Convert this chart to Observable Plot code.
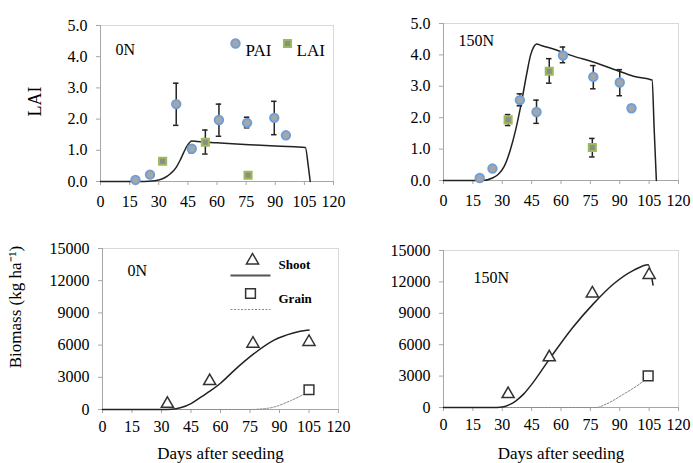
<!DOCTYPE html>
<html><head><meta charset="utf-8">
<script src="https://cdn.jsdelivr.net/npm/d3@7"></script>
<script src="https://cdn.jsdelivr.net/npm/@observablehq/plot@0.6"></script>
<style>
body{margin:0;background:#fff;}
#wrap{position:relative;width:693px;height:463px;overflow:hidden;background:#fff;}
#wrap svg, #wrap svg text{font-family:"Liberation Serif","Times New Roman",serif !important;}
</style></head><body><div id="wrap"></div>
<script>
// ---------- Data ----------
const xTicks = [0, 15, 30, 45, 60, 75, 90, 105, 120];
const laiTicks = [0, 1, 2, 3, 4, 5];
const bioTicks = [0, 3000, 6000, 9000, 12000, 15000];

// 0N LAI panel
const paiDays0 = [18, 25.5, 39, 47, 61, 75.5, 89.5, 95.5];
const paiVals0 = [0.05, 0.22, 2.48, 1.05, 1.97, 1.88, 2.04, 1.48];
const paiLo0   = [null, null, 1.80, 0.92, 1.45, 1.72, 1.50, 1.42];
const paiHi0   = [null, null, 3.15, 1.16, 2.48, 2.06, 2.57, 1.56];
const laiDays0 = [32, 54, 76];
const laiVals0 = [0.65, 1.26, 0.20];
const laiLo0   = [null, 0.88, null];
const laiHi0   = [null, 1.65, null];
const simLaiDays0 = [0, 20, 25, 30, 33, 36, 39, 41, 43, 45, 47, 50, 60, 70, 80, 90, 100, 105.5, 107, 108];
const simLaiVals0 = [0, 0, 0.01, 0.05, 0.12, 0.25, 0.45, 0.68, 0.95, 1.18, 1.3, 1.28, 1.24, 1.2, 1.17, 1.14, 1.11, 1.09, 0.5, 0];

// 150N LAI panel
const paiDays150 = [18.5, 25, 39, 47.5, 61, 76.5, 90, 96];
const paiVals150 = [0.08, 0.38, 2.56, 2.18, 3.98, 3.30, 3.12, 2.30];
const paiLo150   = [null, null, 2.38, 1.82, 3.75, 2.92, 2.70, 2.20];
const paiHi150   = [null, null, 2.76, 2.56, 4.25, 3.66, 3.53, 2.40];
const laiDays150 = [33, 54, 76];
const laiVals150 = [1.93, 3.48, 1.05];
const laiLo150   = [1.75, 3.10, 0.75];
const laiHi150   = [2.10, 3.88, 1.34];
const simLaiDays150 = [0, 20, 25, 28, 31, 34, 37, 40, 42.5, 44.5, 46, 47.5, 50, 58, 66, 76, 88, 97, 106.5, 107.6, 108.7];
const simLaiVals150 = [0, 0, 0.08, 0.2, 0.45, 0.95, 1.65, 2.55, 3.4, 4.0, 4.25, 4.35, 4.3, 4.15, 3.97, 3.78, 3.52, 3.32, 3.2, 1.6, 0];

// 0N biomass panel
const shootDays0 = [33, 54.5, 76.5, 105];
const shootVals0 = [530, 2650, 6130, 6290];
const grainDays0 = [105];
const grainVals0 = [1840];
const simShootDays0 = [0, 30, 35, 40, 45, 50, 55, 60, 67, 77, 87, 97, 104, 105];
const simShootVals0 = [0, 0, 20, 180, 550, 1150, 1750, 2450, 3650, 5200, 6440, 7130, 7380, 7400];
const simGrainDays0 = [0, 75, 80, 87, 96, 104.5];
const simGrainVals0 = [0, 0, 40, 220, 850, 1620];

// 150N biomass panel
const shootDays150 = [33, 54, 76, 105];
const shootVals150 = [1280, 4790, 10900, 12670];
const grainDays150 = [104.5];
const grainVals150 = [3030];
const simShootDays150 = [0, 25, 30, 34, 37, 41, 46, 54, 66, 76.5, 86.5, 97, 104.5, 107];
const simShootVals150 = [0, 0, 50, 300, 640, 1300, 2450, 4600, 7650, 9900, 11750, 13100, 13650, 11700];
const simGrainDays150 = [0, 78, 83, 92, 100, 104.5];
const simGrainVals150 = [0, 0, 320, 1280, 2230, 2870];

// ---------- Helpers ----------
const FONT = "Liberation Serif, Times New Roman, serif";
const wrap = document.getElementById("wrap");
const pts = (xs, ys, lo, hi) => xs.map((x, i) => ({x, y: ys[i], lo: lo ? lo[i] : null, hi: hi ? hi[i] : null}));
const hline = {draw(ctx) { ctx.moveTo(-20, 0); ctx.lineTo(20, 0); }};

const PAI_STYLE = {r: 4.2, fill: "#a6a6a6", stroke: "#6f9fd8", strokeWidth: 2};
const LAI_STYLE = {symbol: "square", r: 4, fill: "#8c8c8c", stroke: "#9bbb59", strokeWidth: 2};

function errorBars(data) {
  const e = data.filter(d => d.lo != null);
  return [
    Plot.ruleX(e, {x: "x", y1: "lo", y2: "hi", stroke: "#222", strokeWidth: 1.5}),
    Plot.ruleY(e, {y: "lo", x1: d => d.x - 1.4, x2: d => d.x + 1.4, stroke: "#222", strokeWidth: 1.5}),
    Plot.ruleY(e, {y: "hi", x1: d => d.x - 1.4, x2: d => d.x + 1.4, stroke: "#222", strokeWidth: 1.5})
  ];
}

function panel({left, top, width, height, mt, mr, mb, ml, yDomain, yTicks, yFmt, xPad, marks}) {
  const svg = Plot.plot({
    width, height,
    marginTop: mt, marginRight: mr, marginBottom: mb, marginLeft: ml,
    style: {fontFamily: FONT, fontSize: "16px", color: "black", background: "transparent", overflow: "visible"},
    x: {domain: [0, 120]},
    y: {domain: yDomain},
    marks: [
      Plot.frame({stroke: "#d9d9d9"}),
      Plot.ruleX([0], {stroke: "#a6a6a6"}),
      Plot.ruleY([yDomain[0]], {stroke: "#a6a6a6"}),
      Plot.axisX({ticks: xTicks, tickSize: 4, tickPadding: xPad, stroke: "#a6a6a6", fill: "black", tickFormat: d => String(d), label: null}),
      Plot.axisY({ticks: yTicks, tickSize: 4, tickPadding: 9, stroke: "#a6a6a6", fill: "black", tickFormat: yFmt, label: null}),
      ...marks
    ]
  });
  svg.style.position = "absolute";
  svg.style.left = left + "px";
  svg.style.top = top + "px";
  wrap.appendChild(svg);
}

const f1 = d3.format(".1f");
const fi = d => String(d);

// ---------- Top-left: 0N LAI ----------
const pai0 = pts(paiDays0, paiVals0, paiLo0, paiHi0);
const lai0 = pts(laiDays0, laiVals0, laiLo0, laiHi0);
const sim0 = pts(simLaiDays0, simLaiVals0);
panel({
  left: 0, top: 0, width: 346, height: 215, mt: 25, mr: 13, mb: 34, ml: 100,
  yDomain: [0, 5], yTicks: laiTicks, yFmt: f1, xPad: 10,
  marks: [
    Plot.line(sim0, {x: "x", y: "y", stroke: "#222", strokeWidth: 1.5, curve: "monotone-x"}),
    ...errorBars(pai0), ...errorBars(lai0),
    Plot.dot(pai0, {x: "x", y: "y", ...PAI_STYLE}),
    Plot.dot(lai0, {x: "x", y: "y", ...LAI_STYLE}),
    Plot.text(["0N"], {x: null, y: null, text: d => d, frameAnchor: "top-left", textAnchor: "start", dx: 15, dy: 18, fontSize: 16}),
    Plot.text(["LAI"], {x: null, y: null, text: d => d, frameAnchor: "left", textAnchor: "middle", rotate: -90, dx: -65, dy: -2, fontSize: 18}),
    Plot.dot(["PAI"], {x: null, y: null, frameAnchor: "top-right", dx: -98, dy: 18, ...PAI_STYLE}),
    Plot.text(["PAI"], {x: null, y: null, text: d => d, frameAnchor: "top-right", textAnchor: "start", dx: -88, dy: 18, fontSize: 17}),
    Plot.dot(["LAI"], {x: null, y: null, frameAnchor: "top-right", dx: -46, dy: 18, ...LAI_STYLE}),
    Plot.text(["LAI"], {x: null, y: null, text: d => d, frameAnchor: "top-right", textAnchor: "start", dx: -37, dy: 18, fontSize: 17})
  ]
});

// ---------- Top-right: 150N LAI ----------
const pai150 = pts(paiDays150, paiVals150, paiLo150, paiHi150);
const lai150 = pts(laiDays150, laiVals150, laiLo150, laiHi150);
const sim150 = pts(simLaiDays150, simLaiVals150);
panel({
  left: 346, top: 0, width: 347, height: 215, mt: 23, mr: 15, mb: 35, ml: 97,
  yDomain: [0, 5], yTicks: laiTicks, yFmt: f1, xPad: 10,
  marks: [
    Plot.line(sim150, {x: "x", y: "y", stroke: "#222", strokeWidth: 1.5, curve: "monotone-x"}),
    ...errorBars(pai150), ...errorBars(lai150),
    Plot.dot(pai150, {x: "x", y: "y", ...PAI_STYLE}),
    Plot.dot(lai150, {x: "x", y: "y", ...LAI_STYLE}),
    Plot.text(["150N"], {x: null, y: null, text: d => d, frameAnchor: "top-left", textAnchor: "start", dx: 15, dy: 11, fontSize: 16})
  ]
});

// ---------- Bottom-left: 0N biomass ----------
const shoot0 = pts(shootDays0, shootVals0);
const grain0 = pts(grainDays0, grainVals0);
panel({
  left: 0, top: 215, width: 346, height: 248, mt: 33, mr: 8, mb: 54, ml: 102,
  yDomain: [0, 15000], yTicks: bioTicks, yFmt: fi, xPad: 7,
  marks: [
    Plot.line(pts(simGrainDays0, simGrainVals0), {x: "x", y: "y", stroke: "#888", strokeWidth: 1, strokeDasharray: "2,1.5", curve: "monotone-x"}),
    Plot.line(pts(simShootDays0, simShootVals0), {x: "x", y: "y", stroke: "#222", strokeWidth: 1.5, curve: "monotone-x"}),
    Plot.dot(shoot0, {x: "x", y: "y", symbol: "triangle", r: 4.5, stroke: "#333", strokeWidth: 1.5, fill: "white"}),
    Plot.dot(grain0, {x: "x", y: "y", symbol: "square", r: 5.5, stroke: "#333", strokeWidth: 1.5, fill: "white"}),
    Plot.text(["0N"], {x: null, y: null, text: d => d, frameAnchor: "top-left", textAnchor: "start", dx: 25, dy: 16, fontSize: 16}),
    Plot.text(["Biomass (kg ha⁻¹)"], {x: null, y: null, text: d => d, frameAnchor: "left", textAnchor: "middle", rotate: -90, dx: -87, dy: -22, fontSize: 17}),
    Plot.text(["Days after seeding"], {x: null, y: null, text: d => d, frameAnchor: "bottom", dy: 49, fontSize: 17}),
    Plot.dot(["s"], {x: null, y: null, frameAnchor: "top-right", dx: -86, dy: 12, symbol: "triangle", r: 4.5, stroke: "#333", strokeWidth: 1.5, fill: "white"}),
    Plot.text(["Shoot"], {x: null, y: null, text: d => d, frameAnchor: "top-right", textAnchor: "start", dx: -60, dy: 11, fontSize: 13, fontWeight: "bold"}),
    Plot.dot(["l"], {x: null, y: null, frameAnchor: "top-right", dx: -88, dy: 27, symbol: hline, stroke: "#555", strokeWidth: 2, fill: "none"}),
    Plot.dot(["g"], {x: null, y: null, frameAnchor: "top-right", dx: -88, dy: 45, symbol: "square", r: 5.5, stroke: "#333", strokeWidth: 1.5, fill: "white"}),
    Plot.text(["Grain"], {x: null, y: null, text: d => d, frameAnchor: "top-right", textAnchor: "start", dx: -60, dy: 45, fontSize: 13, fontWeight: "bold"}),
    Plot.dot(["d"], {x: null, y: null, frameAnchor: "top-right", dx: -88, dy: 61, symbol: hline, stroke: "#888", strokeWidth: 1, strokeDasharray: "2,1.5", fill: "none"})
  ]
});

// ---------- Bottom-right: 150N biomass ----------
const shoot150 = pts(shootDays150, shootVals150);
const grain150 = pts(grainDays150, grainVals150);
panel({
  left: 346, top: 215, width: 347, height: 248, mt: 35, mr: 15, mb: 56, ml: 97,
  yDomain: [0, 15000], yTicks: bioTicks, yFmt: fi, xPad: 7,
  marks: [
    Plot.line(pts(simGrainDays150, simGrainVals150), {x: "x", y: "y", stroke: "#888", strokeWidth: 1, strokeDasharray: "2,1.5", curve: "monotone-x"}),
    Plot.line(pts(simShootDays150, simShootVals150), {x: "x", y: "y", stroke: "#222", strokeWidth: 1.5, curve: "monotone-x"}),
    Plot.dot(shoot150, {x: "x", y: "y", symbol: "triangle", r: 4.5, stroke: "#333", strokeWidth: 1.5, fill: "white"}),
    Plot.dot(grain150, {x: "x", y: "y", symbol: "square", r: 5.5, stroke: "#333", strokeWidth: 1.5, fill: "white"}),
    Plot.text(["150N"], {x: null, y: null, text: d => d, frameAnchor: "top-left", textAnchor: "start", dx: 30, dy: 21, fontSize: 16}),
    Plot.text(["Days after seeding"], {x: null, y: null, text: d => d, frameAnchor: "bottom", dy: 51, fontSize: 17})
  ]
});
</script></body></html>
